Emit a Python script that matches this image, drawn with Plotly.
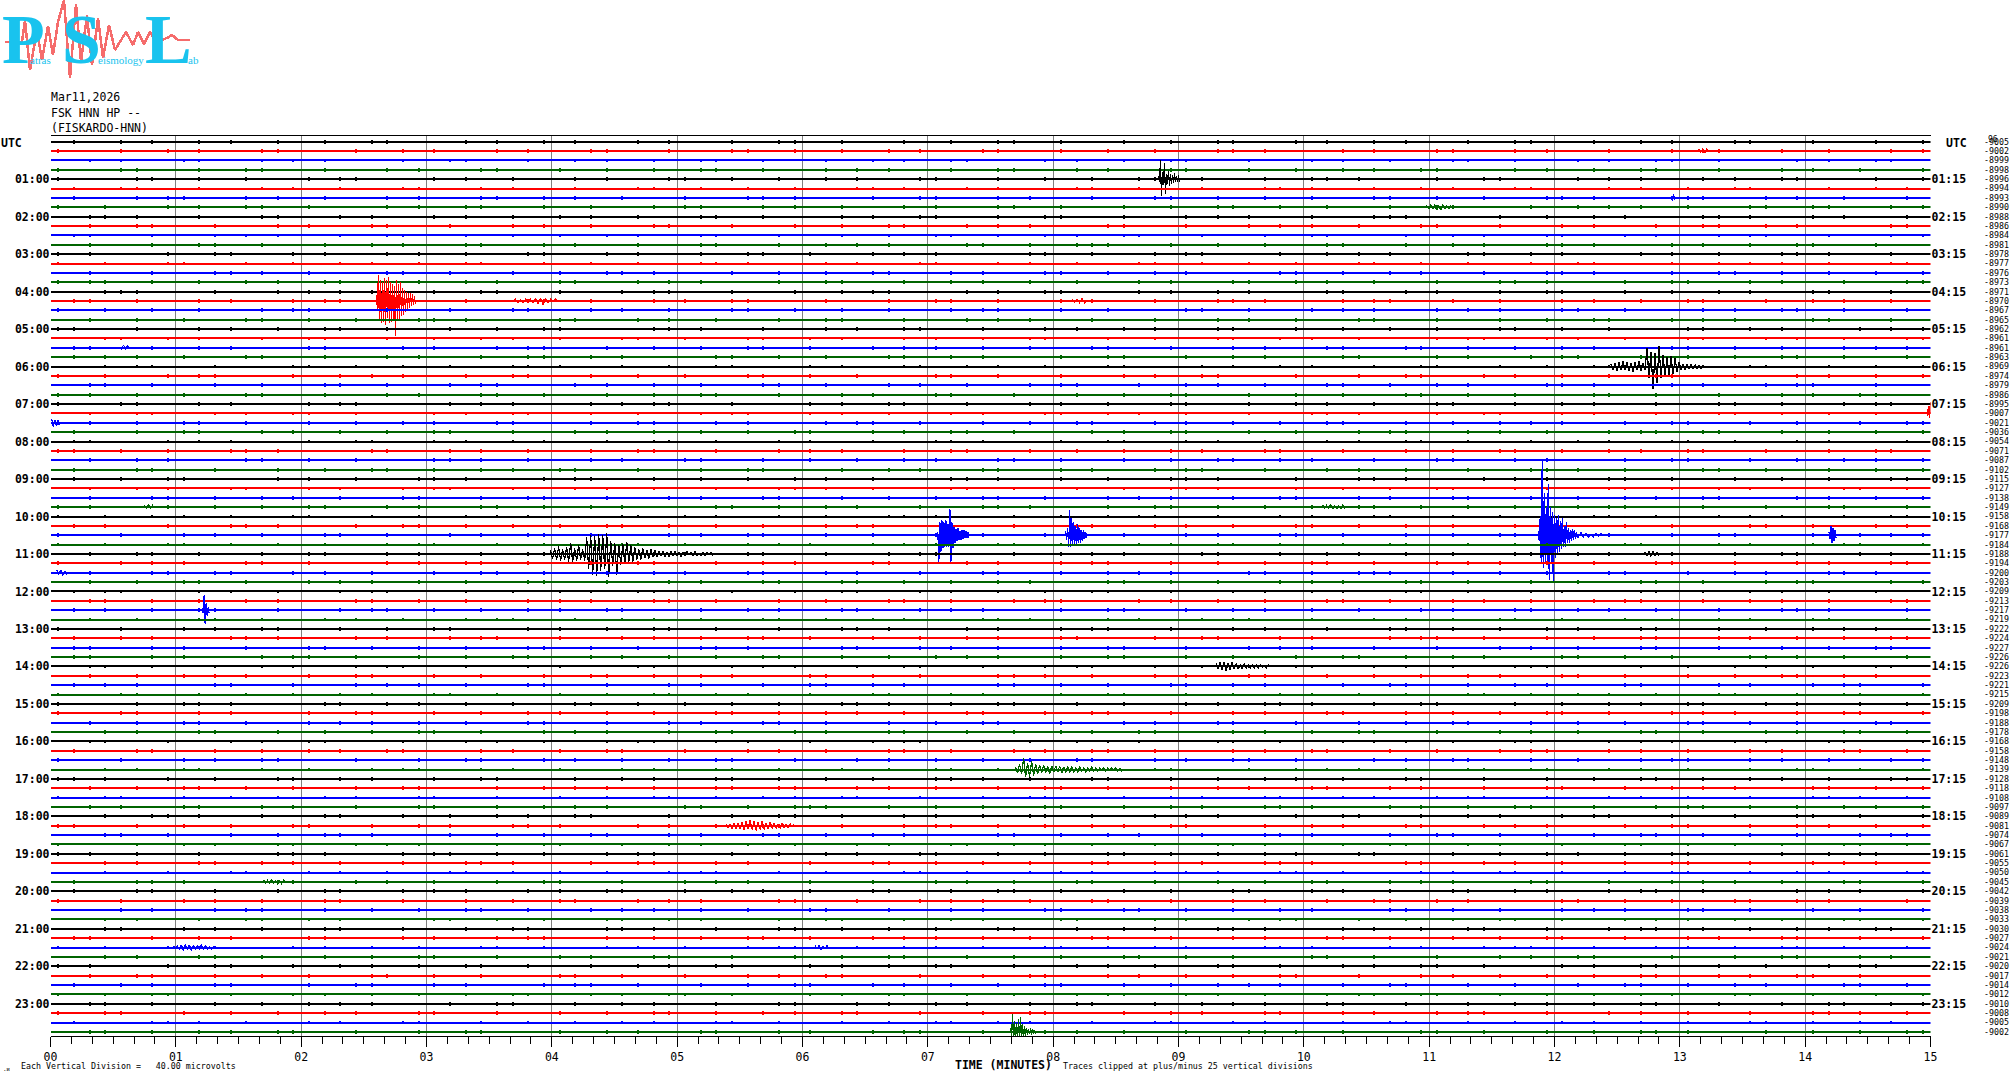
import plotly.graph_objects as go

# The background jitter strings are hand-typed ESTIMATES of the look of the noise (one digit per
# 7.5 s, spike half-height in tenths of a row spacing), not sample-accurate readings.
black_noise = [
"121021211202112012102211012121120211021201121022112101211201221021102112012211021211202101211220112102120112210121102112",
"211012210211211021221011212012110212011221021021121201122101211201210221120112102212011021122101120212110212012211012102",
"102212011211022101212110202112012121021102211201102121122010211221012110212120112011222101102112102121011221201120211021",
"212101121022110212011212102011221102120112102211210120212110112201211021221011201212021101221120210112121021102212011201",
"011222101121102120212011210221102011212210120112102122011021211221010212112021101221102120112112201021121021201122110210",
"221102011212102112201201121021122101102212011211021201221012111202102120112211020121121021102211201210112210212011021212",
"110212201121011220121021121102212010211211220110212011221021201211022101121210212011210221102012112212010211220112102112",
"201122101212011021221101121202110120212211021011212102201121102120121102211021021211201122101210212011211022102101212211",
"122011021212101121022110202112120112102211201021211021012212011021122101202112110212012210211021121201022112101212011021",
"021121022110112120121102212011021221102012112102121120110221201021121012212011021102212101120212011221021102112012110221",
"210211202112101221102012112120211011221021201121021102212101120121021221102011212110220112102112012210211021212011210221",
"112012210211021122011212010211221201102121102211020112122101121021202110122101211202102112011221021211021012112201120210",
"021221101202112110212201102112012121022110121102112201021211201210221102011212102121102211201021211012210211202112012110",
"201121102120122110210211221010212112012210211020112212101120211021221012110212011211022102112012121102201121021120212011",
"112210210121120211021221102011212101122011021212011210221012110212201121021021122011212102011222101102112102120121102211",
"210112012212101102211202112012110221021120121021102212011201221102112101202112212010211221011210211202112210120211021121",
"012211020112121022101121102121120112022110212011211021221102012112120211012210211021202112011221011212021102121102211012",
"221201121021102211212010211221010211212011221021021121102212012011221102112102120121102211021012112012210211202112101221",
"110210221201121012211021121020211221101201121022112010212112102211201021212011021122110210212011212210121102011221021102",
"202112110211012212011021221021120112122101021121021201122110201211022102112012121102210112112012021121022110112012122101",
"121012211021102112201120212110212012211021021211201122101210221120112012110221102121021102211202011212210211011212021102",
"011221102120121102211021012112201102212011211022102112012101221102112021102212011021211210220112011212210210211202112211",
"212011021122101211202112012210211021120211221010212112012211020112121021102211201120211221021011212102201121021102122110",
"102211201021121021212011021122110210212011211022101202112120112102211021021212011221102101211202112012211021012112210212",
]
red_noise = [
"210121120211022110121120211021201122101211022102112012121102211021021120112212101120211022101212011211021220112102101212",
"021122110201121210210122110212011211022012102112110221201021211012210211020112212110210212011221011202112102211012112021",
"112012211021012121102201121102120121102211021012112012211021202110122101211021202112011221102101212011210221120211011221",
"201211022101210211202112012211021021121102212011021201122110212012110221021120121102211210201121022101121021202112011221",
"122102110212011212210121102011221021102021122110120112102211201021211021012212011021221102112101202112012211021021211201",
"011221021201121022110210211212012110221021012211202110212012112210121021102211202112011021221102120121102201121210211022",
"210211021221011201212021102112201021121021102211201211012210211020112121022110121102112201021211201210221102011212102112",
"102112201120211221021011212102201121021102122110202112110212011221021201211021012212011021122101212011211022102112012110",
"221021120112212101102211021201211021122010211021212011210221102012112102120112211021012112012210211202112211021012112201",
"112102121102201120211021221012110212012110211022120121011221021102112012212011021121021022110212011221021120211011221021",
"021201121102212011021022112012112102211210211201021221101201121102211021201211022102112012110212210121120110221021102121",
"201120212110221021011212012210211021122010211212101122011021211021220112102012112210211021202112012110221102101212011221",
"112210210211202110122102112011212021102211201021121012210211021221011202112012110221021102121120112022110210212112011221",
"021121201102212101120211021221012110202112012210211021121021201122101121022110212011021221120112102112201021211201210221",
"102012112120211021122010211211021022112012121101221021120110221210211021201122110210211201212011221021012112102211202110",
"211022101212011021122011210211202112012110221021021211201122101210221102011212110220112102112012210211021212011210221102",
"120112211021021120211221010212112012211020112121021102211201120211221021011212102201121021102122110202112110212011221021",
"012112102211210201121022101121021202112011221022101212012110210221120112102121102211021201121012211021120212011022112102",
"221102112012101221102112021102212011021211210220112011212210210211202112211012112021102211021212011021122101211202112012",
"110212011221021201211021012212011021122101212011211022102112012110221021120112212101102211021201211021122010211021212011",
"201121102120121102211021012112012211021202110122101211021202112011221102101212011210221120211011221021120112210212011021",
"122010211212101122011021211021220112102012112210211021202112012110221102101212011221021102112012211021012121102201121102",
"012112201021121021102211201211012210211020112121022110121102112201021211201210221102011212102112102112201120211221021011",
"210221102012112102120112211021012112012210211202112211021012112201112102121102201120211021221012110212012110211022120121",
]
blue_noise = [
"112021102211021212011021122101211202112012210211021120211221010212112012211020112121021102211201120211221021011212102201",
"021102122110202112110212011221021201211021012212011021122101212011211022102112012110221021120112212101102211021201211021",
"122010211021212011210221102012112102120112211021012112012210211202112211021012112201112102121102201120211021221012110212",
"012110211022120121011221021102112012212011021121021022110212011221021120211011221021021201121102212011021022112012112102",
"211210211201021221101201121102211021201211022102112012110212210121120110221021102121201120212110221021011212012210211021",
"122010211212101122011021211021220112102012112210211021202112012110221102101212011221112210210211202110122102112011212021",
"102211201021121012210211021221011202112012110221021102121120112022110210212112011221021121201102212101120211021221012110",
"202112012210211021121021201122101121022110212011021221120112102112201021211201210221102012112120211021122010211211021022",
"112012121101221021120110221210211021201122110210211201212011221021012112102211202110211022101212011021122011210211202112",
"012110221021021211201122101210221102011212110220112102112012210211021212011210221102120112211021021120211221010212112012",
"211020112121021102211201120211221021011212102201121021102122110202112110212011221021012112102211210201121022101121021202",
"112011221022101212012110210221120112102121102211021201121012211021120212011022112102221102112012101221102112021102212011",
"021211210220112011212210210211202112211012112021102211021212011021122101211202112012110212011221021201211021012212011021",
"122101212011211022102112012110221021120112212101102211021201211021122010211021212011201121102120121102211021012112012211",
"021202110122101211021202112011221102101212011210221120211011221021120112210212011021122010211212101122011021211021220112",
"102012112210211021202112012110221102101212011221021102112012211021012121102201121102012112201021121021102211201211012210",
"211020112121022110121102112201021211201210221102011212102112102112201120211221021011212102201121021102122110202112110212",
"210221102012112102120112211021012112012210211202112211021012112201112102121102201120211021221012110212012110211022120121",
"011221021102112012212011021121021022110212011221021120211011221021021201121102212011021022112012112102211210211201021221",
"101201121102211021201211022102112012110212210121120110221021102121201120212110221021011212012210211021122010211212101122",
"011021211021220112102012112210211021202112012110221102101212011221112210210211202110122102112011212021102211201021121012",
"210211021221011202112012110221021102121120112022110210212112011221021121201102212101120211021221012110202112012210211021",
"121021201122101121022110212011021221120112102112201021211201210221102012112120211021122010211211021022112012121101221021",
"120110221210211021201122110210211201212011221021012112102211202110211022101212011021122011210211202112012110221021021211",
]
green_noise = [
"201122101210221102011212110220112102112012210211021212011210221102120112211021021120211221010212112012211020112121021102",
"211201120211221021011212102201121021102122110202112110212011221021012112102211210201121022101121021202112011221022101212",
"012110210221120112102121102211021201121012211021120212011022112102221102112012101221102112021102212011021211210220112011",
"212210210211202112211012112021102211021212011021122101211202112012110212011221021201211021012212011021122101212011211022",
"102112012110221021120112212101102211021201211021122010211021212011201121102120121102211021012112012211021202110122101211",
"021202112011221102101212011210221120211011221021120112210212011021122010211212101122011021211021220112102012112210211021",
"202112012110221102101212011221021102112012211021012121102201121102012112201021121021102211201211012210211020112121022110",
"121102112201021211201210221102011212102112102112201120211221021011212102201121021102122110202112110212210221102012112102",
"120112211021012112012210211202112211021012112201112102121102201120211021221012110212012110211022120121011221021102112012",
"212011021121021022110212011221021120211011221021021201121102212011021022112012112102211210211201021221101201121102211021",
"201211022102112012110212210121120110221021102121201120212110221021011212012210211021122010211212101122011021211021220112",
"102012112210211021202112012110221102101212011221112210210211202110122102112011212021102211201021121012210211021221011202",
"112012110221021102121120112022110210212112011221021121201102212101120211021221012110202112012210211021121021201122101121",
"022110212011021221120112102112201021211201210221102012112120211021122010211211021022112012121101221021120110221210211021",
"201122110210211201212011221021012112102211202110211022101212011021122011210211202112012110221021021211201122101210221102",
"011212110220112102112012210211021212011210221102120112211021021120211221010212112012211020112121021102211201120211221021",
"011212102201121021102122110202112110212011221021012112102211210201121022101121021202112011221022101212012110210221120112",
"102121102211021201121012211021120212011022112102221102112012101221102112021102212011021211210220112011212210210211202112",
"211012112021102211021212011021122101211202112012110212011221021201211021012212011021122101212011211022102112012110221021",
"120112212101102211021201211021122010211021212011201121102120121102211021012112012211021202110122101211021202112011221102",
"101212011210221120211011221021120112210212011021122010211212101122011021211021220112102012112210211021202112012110221102",
"101212011221021102112012211021012121102201121102012112201021121021102211201211012210211020112121022110121102112201021211",
"201210221102011212102112102112201120211221021011212102201121021102122110202112110212210221102012112102120112211021012112",
"012210211202112211021012112201112102121102201120211021221012110212012110211022120121011221021102112012212011021121021022",
]
noise_by_colour = [black_noise, red_noise, blue_noise, green_noise]
trace_colours = ["#000000", "#ff0000", "#0000ff", "#006400"]

# Seismic events: row, start minute, minutes per value, signed deviation (tenths of a row spacing).
event_rows = [4, 7, 17, 17, 17, 24, 29, 30, 42, 42, 42, 42, 42, 44, 44, 46, 50, 56, 67, 73, 79, 86, 86, 95, 39, 39, 22, 1, 6]
event_starts = [8.84, 10.98, 2.60, 3.67, 8.15, 12.45, 14.975, 0.01, 7.08, 8.10, 11.87, 12.05, 14.19, 3.99, 12.72, 0.05, 1.21, 9.30, 7.70, 5.39, 1.70, 0.98, 6.10, 7.66, 0.75, 10.15, 0.55, 13.15, 12.93]
event_steps = [0.008, 0.016, 0.008, 0.02, 0.02, 0.016, 0.008, 0.012, 0.008, 0.008, 0.008, 0.02, 0.008, 0.016, 0.016, 0.016, 0.008, 0.016, 0.016, 0.016, 0.016, 0.016, 0.016, 0.008, 0.016, 0.016, 0.016, 0.016, 0.01]
event_devs = [
 [3,-3,20,-18,8,-6,17,-16,6,-5,9,-7,5,-5,4,-4,6,-3,3,-3,4,-3],
 [2,-2,3,-2,3,-3,2,-3,3,-2,2,-2,2,-2],
 [6,-8,28,-20,22,-24,20,-22,24,-26,22,-18,26,-24,20,-22,18,-20,16,-37,22,-20,18,-19,20,-16,14,-15,12,-12,10,-8,8,-7,9,-5,7,-4,5,-3],
 [1,-1,2,-2,1,-2,2,-1,2,-2,3,-3,3,-4,3,-2,2,-1,2,-1],
 [2,-1,2,-2,3,-2,1,-1],
 [3,-4,4,-5,5,-4,6,-4,5,-5,4,-6,5,-4,6,-5,4,-4,20,-12,16,-24,14,-18,22,-12,12,-10,10,-9,11,-8,9,-6,5,-4,3,-3,3,-2,3,-2,2,-2,1,-2,2],
 [-3,8,-5,12,-5],
 [4,-4,3,-3,3,-2],
 [3,-28,14,-18,16,-14,14,-13,16,-12,12,-12,28,-28,14,-14,9,-8,7,-6,8,-5,5,-5,6,-4,5,-3,4,-3,3,-3],
 [5,-5,8,-12,27,-13,18,-10,14,-10,10,-10,12,-8,8,-8,6,-6,5,-4,3,-3],
 [4,-6,20,-30,80,-35,45,-30,30,-28,55,-48,30,-28,25,-50,22,-24,18,-20,22,-18,15,-15,18,-12,10,-12,14,-8,8,-8,6,-6,7,-5,6,-4,3,-3],
 [2,-2,3,-2,2,-3,2,-2,3,-2,2,-2,1,-2,2,-1,2,-1],
 [3,-4,10,-8,8,-6,5,-3],
 [4,-5,6,-6,8,-7,5,-6,7,-8,12,-9,6,-7,9,-6,5,-7,18,-16,20,-22,19,-23,21,-18,20,-16,22,-24,14,-13,12,-22,10,-12,11,-10,13,-9,9,-8,7,-6,5,-6,6,-4,4,-5,5,-3,4,-3,3,-2,3,-3,2,-3,3,-2,3,-2,2,-3,2,-2,3,-1,2,-2,3,-2,1,-2,2,-2,2,-1,2,-2],
 [2,-2,3,-3,3,-2,2,-2],
 [3,-2,3,-3,2,-2],
 [2,-3,16,-15,8,-6,3,-3],
 [3,-3,5,-4,5,-5,4,-4,5,-3,3,-3,2,-3,3,-2,2,-2,2,-2,2,-2,2,-1,1,-2,2,-1],
 [3,-4,6,-5,12,-8,7,-8,9,-7,6,-5,5,-4,5,-4,4,-5,4,-3,4,-3,4,-4,3,-3,3,-3,3,-3,2,-3,3,-2,2,-3,2,-2,3,-2,2,-2,2,-1,2,-2,2,-1,2,-1,2,-2,1,-2],
 [2,-2,2,-3,3,-3,3,-3,4,-4,5,-3,6,-4,5,-5,4,-4,5,-4,3,-3,4,-3,3,-3,2,-3,3,-2,2,-2,2,-1,2],
 [2,-1,2,-2,3,-2,2,-2,1,-2,2,-1],
 [2,-1,2,-2,3,-3,3,-2,3,-3,2,-2,2,-2,3,-2,2,-2,1,-2,1,-1],
 [2,-1,2,-2,1,-1,2,-1],
 [4,-4,19,-11,12,-8,9,-6,14,-10,16,-8,8,-6,6,-4,4,-3,3,-2,4,-3,3,-2,2,-2],
 [2,-2,3,-2,2,-1],
 [2,-1,2,-2,3,-2,2,-2,2,-2,2,-1,1],
 [1,-2,3,-1,2,-1],
 [2,-1,2,-2,2,-1],
 [2,-3,4,-2],
]

hour_rows = [4, 8, 12, 16, 20, 24, 28, 32, 36, 40, 44, 48, 52, 56, 60, 64, 68, 72, 76, 80, 84, 88, 92]
left_labels = ["01:00","02:00","03:00","04:00","05:00","06:00","07:00","08:00","09:00","10:00","11:00","12:00","13:00","14:00","15:00","16:00","17:00","18:00","19:00","20:00","21:00","22:00","23:00"]
right_labels = ["01:15","02:15","03:15","04:15","05:15","06:15","07:15","08:15","09:15","10:15","11:15","12:15","13:15","14:15","15:15","16:15","17:15","18:15","19:15","20:15","21:15","22:15","23:15"]
row_offsets = [-9005,-9002,-8999,-8998,-8996,-8994,-8993,-8990,-8988,-8986,-8984,-8981,-8978,-8977,-8976,-8973,-8971,-8970,-8967,-8965,-8962,-8961,-8961,-8963,-8969,-8974,-8979,-8986,-8995,-9007,-9021,-9036,-9054,-9071,-9087,-9102,-9115,-9127,-9138,-9149,-9158,-9168,-9177,-9184,-9188,-9194,-9200,-9203,-9209,-9213,-9217,-9219,-9222,-9224,-9227,-9226,-9226,-9223,-9221,-9215,-9209,-9198,-9188,-9178,-9168,-9158,-9148,-9139,-9128,-9118,-9108,-9097,-9089,-9081,-9074,-9067,-9061,-9055,-9050,-9045,-9042,-9039,-9038,-9033,-9030,-9027,-9024,-9021,-9020,-9017,-9014,-9012,-9010,-9008,-9005,-9002]
minute_labels = ["00","01","02","03","04","05","06","07","08","09","10","11","12","13","14","15"]

logo_x = [5,22,25,30,37,42,48,53,58,64,70,76,81,87,92,98,103,109,115,120,126,133,138,144,150,156,167,172,178,190]
logo_y = [42,42,20,70,30,60,26,55,22,0,78,4,62,15,65,18,58,25,50,42,32,45,32,44,32,42,38,35,40,40]

W, H = 2010, 1080
MONO = "DejaVu Sans Mono"
n_rows = len(row_offsets)
PER_SAMPLE = 1 / 8
y_range = [95.44, -0.608]

fig = go.Figure()
for r in range(n_rows):
    colour = trace_colours[r % 4]
    digits = noise_by_colour[r % 4][r // 4]
    fig.add_trace(go.Scatter(x=[0, 15], y=[r, r], mode="lines", cliponaxis=False, hoverinfo="skip",
                             line=dict(color=colour, width=2), showlegend=False))
    xs, ys = [], []
    for i, ch in enumerate(digits):
        t = (i + 0.5) * PER_SAMPLE
        d = int(ch) / 10
        xs += [t, t, t, t]
        ys += [r, r - d, r + d, r]
    fig.add_trace(go.Scatter(x=xs, y=ys, mode="lines", cliponaxis=False, hoverinfo="skip",
                             line=dict(color=colour, width=2), showlegend=False))
    ex, ey = [], []
    for er, st, step, devs in zip(event_rows, event_starts, event_steps, event_devs):
        if er == r:
            ex.append(None)
            ey.append(None)
            for j, dv in enumerate(devs):
                ex.append(st + j * step)
                ey.append(r - dv / 10)
    if ex:
        fig.add_trace(go.Scatter(x=ex, y=ey, mode="lines", cliponaxis=False, hoverinfo="skip",
                                 line=dict(color=colour, width=1.2), showlegend=False))

fig.add_trace(go.Scatter(x=[], y=[], yaxis="y2", showlegend=False))
fig.add_trace(go.Scatter(x=[], y=[], yaxis="y3", showlegend=False))
fig.add_trace(go.Scatter(x=logo_x, y=logo_y, xaxis="x2", yaxis="y4", mode="lines", cliponaxis=False,
                         hoverinfo="skip", line=dict(color="#f56c6c", width=2.5), showlegend=False))

def note(px, py, text, size, family=MONO, color="#000000", anchor="left"):
    fig.add_annotation(x=px / W, y=1 - py / H, xref="paper", yref="paper", text=text, showarrow=False,
                       xanchor=anchor, yanchor="middle", align=anchor, borderpad=0,
                       font=dict(family=family, size=size, color=color))

CYAN = "#19c3ee"
SERIF = "Liberation Serif"
note(1, 40, "<b>P</b>", 70, SERIF, CYAN)
note(61, 40, "<b>S</b>", 70, SERIF, CYAN)
note(144, 40, "<b>L</b>", 70, SERIF, CYAN)
note(29, 60, "atras", 11, SERIF, CYAN)
note(97, 60, "eismology", 11, SERIF, CYAN)
note(187, 60, "ab", 11, SERIF, CYAN)
note(50, 97, "Mar11,2026", 11.5)
note(50, 113, "FSK HNN HP --", 11.5)
note(50, 127.5, "(FISKARDO-HNN)", 11.5)
note(0, 143, "<b>UTC</b>", 11.5)
note(1945, 143, "<b>UTC</b>", 11.5)
note(1987, 139, "96", 8)
note(2, 1068, ".ᴎ", 6)
note(20, 1066, "Each Vertical Division =   40.00 microvolts", 8.3)
note(954, 1065, "<b>TIME (MINUTES)</b>", 11.5)
note(1062, 1066, "Traces clipped at plus/minus 25 vertical divisions", 8.3)

fig.update_layout(
    width=W, height=H, margin=dict(l=0, r=0, t=0, b=0, autoexpand=False), paper_bgcolor="#ffffff", plot_bgcolor="#ffffff",
    showlegend=False, hovermode=False,
    xaxis=dict(domain=[50.5 / W, 1930.5 / W], range=[0, 15], tickmode="array",
               tickvals=list(range(16)), ticktext=minute_labels, ticks="outside", ticklen=10, tickwidth=1,
               tickcolor="#000000", showline=True, linecolor="#000000", linewidth=1, mirror=True,
               showgrid=True, gridcolor="#808080", gridwidth=1.2, zeroline=False,
               tickfont=dict(family=MONO, size=11.5, color="#000000"),
               minor=dict(dtick=1 / 6, ticks="outside", ticklen=7, tickwidth=1, tickcolor="#000000", showgrid=False)),
    yaxis=dict(domain=[1 - 1036 / H, 1 - 136 / H], range=y_range, tickmode="array", tickvals=hour_rows,
               ticktext=[f"<b>{s}</b>" for s in left_labels], ticks="", showgrid=False, zeroline=False, showline=False,
               tickfont=dict(family=MONO, size=11.5, color="#000000"), ticklabelstandoff=0),
    yaxis2=dict(overlaying="y", side="right", range=y_range, tickmode="array", tickvals=hour_rows,
                ticktext=[f"<b>{s}</b>" for s in right_labels], ticks="", showgrid=False, zeroline=False, showline=False,
                tickfont=dict(family=MONO, size=11.5, color="#000000")),
    yaxis3=dict(overlaying="y", side="right", anchor="free", position=1983 / W, range=y_range, tickmode="array",
                tickvals=list(range(n_rows)), ticktext=[str(v) for v in row_offsets], ticks="", showgrid=False,
                zeroline=False, showline=False, tickfont=dict(family=MONO, size=8.3, color="#000000")),
    xaxis2=dict(domain=[0, 200 / W], range=[0, 200], visible=False, anchor="y4"),
    yaxis4=dict(domain=[1 - 80 / H, 1], range=[80, 0], visible=False, anchor="x2"),
)

post = """
document.body.style.margin = '0';
var s = document.createElement('style');
s.textContent = '.scatterlayer path, .gridlayer path, .xaxislayer-above path, .overplot path {shape-rendering: crispEdges;}';
document.head.appendChild(s);
"""
fig.write_html("out.html", config={"displayModeBar": False}, post_script=post)
